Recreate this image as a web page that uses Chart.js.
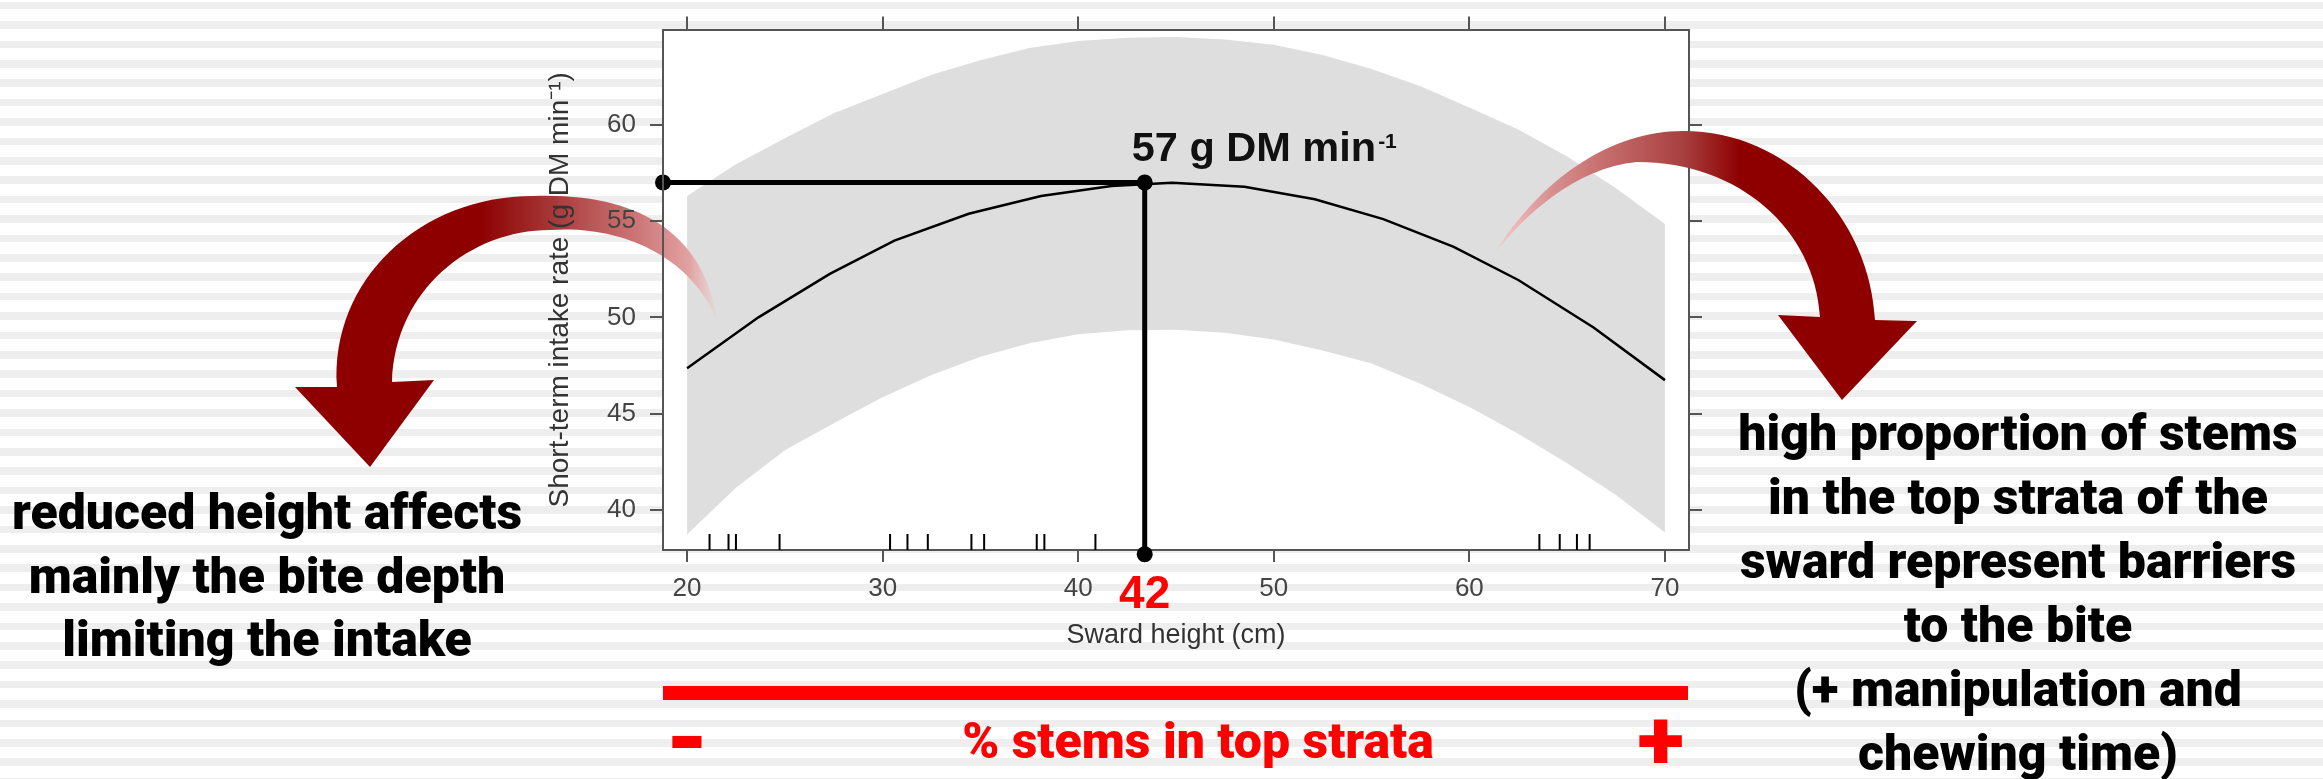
<!DOCTYPE html>
<html>
<head>
<meta charset="utf-8">
<script src="https://cdn.jsdelivr.net/npm/chart.js@4.4.1/dist/chart.umd.min.js"></script>
<style>
  html, body { margin: 0; padding: 0; }
  body {
    width: 2323px; height: 779px; overflow: hidden; position: relative;
    background: repeating-linear-gradient(to bottom,
      #fff 0px, #fff 1.8px, #eeeeee 1.8px, #eeeeee 9.3px, #fff 9.3px, #fff 19.4px);
  }
  #chart { position: absolute; left: 0; top: 0; }
  .note {
    position: absolute; text-align: center; white-space: nowrap;
    font-family: Roboto, "Liberation Sans", sans-serif; font-weight: 900;
    font-size: 50px; color: #000;
  }
</style>
</head>
<body>
<canvas id="chart" width="2323" height="779"></canvas>
<div class="note" style="left:0; width:534px; top:481px; line-height:63.5px;">reduced height affects<br>mainly the bite depth<br>limiting the intake</div>
<div class="note" style="left:1718px; width:600px; top:401px; line-height:64.1px;">high proportion of stems<br>in the top strata of the<br>sward represent barriers<br>to the bite<br>(+ manipulation and<br>chewing time)</div>
<script>
// axes
const xTicks = [20, 30, 40, 50, 60, 70];
const yTicks = [40, 45, 50, 55, 60];
const xRange = [18.77, 71.23];
const yRange = [37.92, 64.94];

// fitted curve
const fitX = [20, 23.65, 27.3, 30.6, 34.4, 38.1, 41.7, 44.8, 48.5, 52.1, 55.6, 59.2, 62.5, 66.35, 70];
const fitY = [47.36, 50.0, 52.26, 53.98, 55.38, 56.30, 56.82, 56.99, 56.78, 56.13, 55.10, 53.66, 51.94, 49.47, 46.74];

// confidence band
const bandX = [20, 22.5, 25, 27.5, 30, 32.5, 35, 37.5, 40, 42.5, 45, 47.5, 50, 52.5, 55, 57.5, 60, 62.5, 65, 67.5, 70];
const bandHigh = [56.3, 57.95, 59.3, 60.6, 61.6, 62.6, 63.35, 63.98, 64.35, 64.52, 64.56, 64.42, 64.15, 63.62, 62.9, 62.0, 60.9, 59.75, 58.35, 56.7, 54.84];
const bandLow = [38.72, 41.15, 43.1, 44.5, 45.85, 47.0, 47.95, 48.65, 49.12, 49.33, 49.36, 49.2, 48.85, 48.28, 47.6, 46.55, 45.35, 43.95, 42.42, 40.78, 38.83];

// rug of observed sward heights
const rugX = [21.15, 22.12, 22.5, 24.73, 30.38, 31.27, 32.31, 34.54, 35.19, 37.88, 38.27, 40.88, 63.58, 64.62, 65.5, 66.15];
const rugY = 38.34;

// optimum guide
const guideX = [18.77, 43.4, 43.4];
const guideY = [57, 57, 37.7];

const xTitle = 'Sward height (cm)';
const yTitle = 'Short-term intake rate (g DM min\u207B\u00B9)';
const peakText = '57 g DM min';
const peakSup = '-1';
const optText = '42';
const stripText = '% stems in top strata';

const pts = (xs, ys) => xs.map((x, i) => ({x: x, y: Array.isArray(ys) ? ys[i] : ys}));

const axisFont = {family: '"Liberation Sans", Arial, sans-serif', size: 26};
const titleFont = {family: '"Liberation Sans", Arial, sans-serif', size: 27};
const frame = '#555';
const labelColor = '#444';

function setTicks(list) {
  return scale => { scale.ticks = list.map(v => ({value: v})); };
}

function fitText(ctx, text, font, cx, cy, w, h) {
  ctx.save();
  ctx.font = font;
  ctx.textAlign = 'left';
  ctx.textBaseline = 'alphabetic';
  const m = ctx.measureText(text);
  const gw = m.actualBoundingBoxLeft + m.actualBoundingBoxRight;
  const gh = m.actualBoundingBoxAscent + m.actualBoundingBoxDescent;
  ctx.translate(cx, cy);
  ctx.scale(w / gw, h / gh);
  ctx.fillText(text, (m.actualBoundingBoxLeft - m.actualBoundingBoxRight) / 2,
    (m.actualBoundingBoxAscent - m.actualBoundingBoxDescent) / 2);
  ctx.restore();
}

function leftArrow(ctx) {
  const g = ctx.createLinearGradient(717, 0, 337, 0);
  g.addColorStop(0, 'rgba(240,185,185,0.15)');
  g.addColorStop(0.071, '#e3a2a2');
  g.addColorStop(0.203, '#cd7878');
  g.addColorStop(0.334, '#b95555');
  g.addColorStop(0.466, '#a22e2e');
  g.addColorStop(0.624, '#8e0000');
  g.addColorStop(1, '#8e0000');
  ctx.fillStyle = g;
  ctx.beginPath();
  ctx.moveTo(337, 387);
  ctx.bezierCurveTo(330, 280, 420, 196, 533, 196);
  ctx.bezierCurveTo(640, 192, 705, 235, 717, 320);
  ctx.bezierCurveTo(690, 255, 620, 225, 550, 230);
  ctx.bezierCurveTo(470, 230, 395, 290, 392, 382);
  ctx.lineTo(434, 380);
  ctx.lineTo(370, 467);
  ctx.lineTo(295, 387);
  ctx.closePath();
  ctx.fill();
}

function rightArrow(ctx) {
  const g = ctx.createLinearGradient(1495, 0, 1917, 0);
  g.addColorStop(0, 'rgba(240,185,185,0.15)');
  g.addColorStop(0.036, '#efbcbc');
  g.addColorStop(0.13, '#d89090');
  g.addColorStop(0.249, '#c87070');
  g.addColorStop(0.445, '#a84040');
  g.addColorStop(0.58, '#8e0000');
  g.addColorStop(1, '#8e0000');
  ctx.fillStyle = g;
  ctx.beginPath();
  ctx.moveTo(1495, 253);
  ctx.bezierCurveTo(1540, 180, 1610, 131, 1683, 131);
  ctx.bezierCurveTo(1790, 131, 1870, 220, 1875, 320);
  ctx.lineTo(1917, 321);
  ctx.lineTo(1842, 400);
  ctx.lineTo(1778, 315);
  ctx.lineTo(1820, 317);
  ctx.bezierCurveTo(1815, 230, 1740, 162, 1637, 162);
  ctx.bezierCurveTo(1575, 168, 1525, 215, 1495, 253);
  ctx.closePath();
  ctx.fill();
}

const decor = {
  id: 'decor',
  beforeDraw(chart) {
    const {ctx, chartArea: a} = chart;
    ctx.save();
    ctx.fillStyle = '#fff';
    ctx.fillRect(a.left, a.top, a.right - a.left, a.bottom - a.top);
    ctx.restore();
  },
  afterDatasetsDraw(chart) {
    const ctx = chart.ctx;
    ctx.save();
    leftArrow(ctx);
    rightArrow(ctx);
    ctx.restore();
  },
  afterDraw(chart) {
    const {ctx, chartArea: a, scales} = chart;
    const px = scales.x.getPixelForValue(guideX[1]);
    const py = scales.y.getPixelForValue(guideY[1]);
    ctx.save();
    // peak label
    ctx.fillStyle = '#111';
    ctx.textAlign = 'left';
    ctx.textBaseline = 'alphabetic';
    ctx.font = 'bold 41.5px "Liberation Sans", Arial, sans-serif';
    const x0 = px - 13, y0 = py - 21.5;
    ctx.fillText(peakText, x0, y0);
    const w = ctx.measureText(peakText).width;
    ctx.font = 'bold 21px "Liberation Sans", Arial, sans-serif';
    ctx.fillText(peakSup, x0 + w + 2, y0 - 13);
    // optimum height label
    ctx.fillStyle = '#ff0000';
    ctx.textAlign = 'center';
    ctx.font = 'bold 46px "Liberation Sans", Arial, sans-serif';
    ctx.fillText(optText, px, 608);
    // stem gradient bar
    ctx.fillRect(a.left, 686, a.right - a.left - 1, 14);
    ctx.font = '900 50px Roboto, sans-serif';
    ctx.fillText(stripText, 1198, 758);
    fitText(ctx, '-', '900 80px Roboto, sans-serif', 686.7, 741.6, 31, 13);
    fitText(ctx, '+', '900 80px Roboto, sans-serif', 1660.4, 741.6, 43.5, 43);
    ctx.restore();
  }
};

new Chart(document.getElementById('chart'), {
  type: 'scatter',
  plugins: [decor],
  data: {
    datasets: [{
      label: 'optimum',
      data: pts(guideX, guideY),
      showLine: true,
      borderColor: '#000',
      backgroundColor: '#000',
      borderWidth: 5,
      pointRadius: 8,
      pointBorderWidth: 0,
      clip: false
    }, {
      label: 'fit',
      data: pts(fitX, fitY),
      showLine: true,
      borderColor: '#000',
      borderWidth: 2.5,
      pointRadius: 0
    }, {
      label: 'rug',
      data: pts(rugX, rugY),
      pointStyle: 'line',
      pointRotation: 90,
      pointRadius: 8,
      pointBorderWidth: 2,
      pointBorderColor: '#000',
      borderColor: '#000'
    }, {
      label: 'lower',
      data: pts(bandX, bandLow),
      showLine: true,
      borderColor: 'rgba(0,0,0,0)',
      borderWidth: 1,
      pointRadius: 0,
      fill: false
    }, {
      label: 'upper',
      data: pts(bandX, bandHigh),
      showLine: true,
      borderColor: 'rgba(0,0,0,0)',
      borderWidth: 1,
      pointRadius: 0,
      fill: '-1',
      backgroundColor: '#dedede'
    }]
  },
  options: {
    responsive: false,
    animation: false,
    devicePixelRatio: 1,
    layout: {padding: {left: 543, right: 0, top: 0, bottom: 127}},
    plugins: {legend: {display: false}, tooltip: {enabled: false}},
    scales: {
      x: {
        type: 'linear', position: 'bottom', min: xRange[0], max: xRange[1],
        afterBuildTicks: setTicks(xTicks),
        afterFit: s => { s.height = 102; },
        grid: {drawOnChartArea: false, tickLength: 12, tickColor: frame, lineWidth: 2},
        border: {color: frame, width: 2},
        ticks: {padding: 11, color: labelColor, font: axisFont, maxRotation: 0},
        title: {display: true, text: xTitle, color: '#333', font: titleFont, padding: 0}
      },
      x2: {
        type: 'linear', axis: 'x', position: 'top', min: xRange[0], max: xRange[1],
        afterBuildTicks: setTicks(xTicks),
        afterFit: s => { s.height = 21; },
        grid: {drawOnChartArea: false, tickLength: 13, tickColor: frame, lineWidth: 2},
        border: {color: frame, width: 2},
        ticks: {display: false}
      },
      y: {
        type: 'linear', position: 'left', min: yRange[0], max: yRange[1],
        afterBuildTicks: setTicks(yTicks),
        afterFit: s => { s.width = 120; },
        // drawn above the arrows, like in the original slide
        grid: {drawOnChartArea: false, tickLength: 13, tickColor: frame, lineWidth: 2, z: 1},
        border: {color: frame, width: 2, z: 1},
        ticks: {padding: 14, color: labelColor, font: axisFont, z: 1},
        title: {display: true, text: yTitle, color: '#333', font: {family: titleFont.family, size: 28}, padding: 0}
      },
      y2: {
        type: 'linear', axis: 'y', position: 'right', min: yRange[0], max: yRange[1],
        afterBuildTicks: setTicks(yTicks),
        afterFit: s => { s.width = 634; },
        grid: {drawOnChartArea: false, tickLength: 13, tickColor: frame, lineWidth: 2},
        border: {color: frame, width: 2},
        ticks: {display: false}
      }
    }
  }
});
</script>
</body>
</html>
